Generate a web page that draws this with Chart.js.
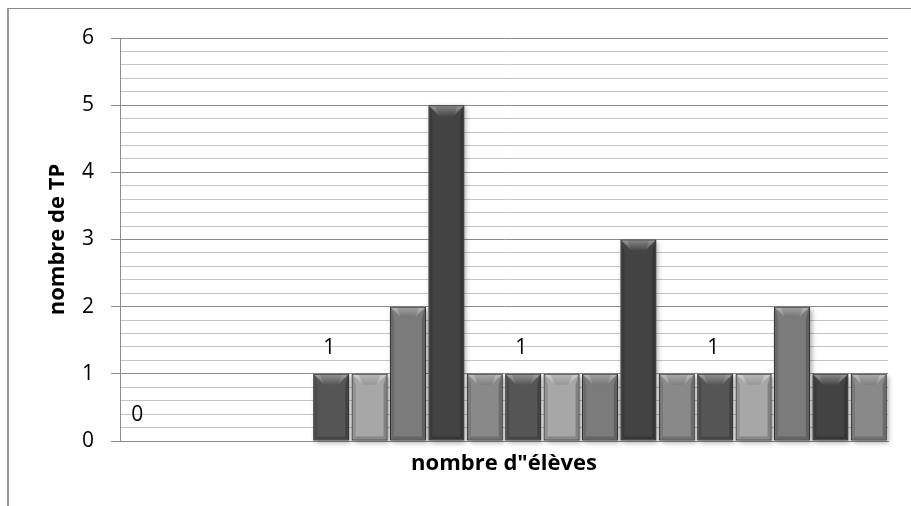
<!DOCTYPE html>
<html>
<head>
<meta charset="utf-8">
<script src="https://cdn.jsdelivr.net/npm/chart.js@4/dist/chart.umd.min.js"></script>
<style>
  html, body { margin: 0; padding: 0; background: #ffffff; }
  #wrap { position: relative; width: 911px; height: 506px; overflow: hidden; }
  #frame { position: absolute; left: 7px; top: 8px; width: 910px; height: 510px;
           border-top: 1px solid #8a8a8a; border-left: 2px solid #9a9a9a; box-sizing: border-box; pointer-events: none; }
  canvas { position: absolute; left: 0; top: 0; }
</style>
</head>
<body>
<div id="wrap">
  <canvas id="c" width="911" height="506"></canvas>
  <div id="frame"></div>
</div>
<script>
// ---- data ----
const categories = [""];
const seriesNames = ["1","2","3","4","5","6","7","8","9","10","11","12","13","14","15","16","17","18","19","20"];
const seriesValues = [0, 0, 0, 0, 0, 1, 1, 2, 5, 1, 1, 1, 1, 3, 1, 1, 1, 2, 1, 1];
const labeledSeries = [0, 5, 10, 15];
const yTickValues = [0, 1, 2, 3, 4, 5, 6];
const xTitle = 'nombre d"élèves';
const yTitle = "nombre de TP";

// ---- styles ----
const palette = ["#555555", "#a7a7a7", "#7b7b7b", "#434343", "#898989"];
const FONT = "'Open Sans', Lato, sans-serif";

const datasets = seriesNames.map((name, i) => ({
  label: name,
  data: [seriesValues[i]],
  backgroundColor: palette[i % palette.length],
  borderColor: "#2a2a2a",
  borderWidth: 1,
  borderSkipped: false,
  categoryPercentage: 1.0,
  barPercentage: 0.935
}));

function barBox(el) {
  const l = el.x - el.width / 2, r = el.x + el.width / 2;
  const t = Math.min(el.y, el.base), b = Math.max(el.y, el.base);
  return { l, r, t, b };
}

const bevelPlugin = {
  id: "bevel",
  beforeDatasetsDraw(chart) {
    const ctx = chart.ctx;
    ctx.save();
    chart.data.datasets.forEach((ds, i) => {
      const meta = chart.getDatasetMeta(i);
      meta.data.forEach(el => {
        const { l, r, t, b } = barBox(el);
        if (b - t < 2) return;
        ctx.shadowColor = "rgba(0,0,0,0.35)";
        ctx.shadowBlur = 5;
        ctx.shadowOffsetX = 2;
        ctx.shadowOffsetY = 2;
        ctx.fillStyle = "#888";
        ctx.fillRect(l, t, r - l, b - t);
      });
    });
    ctx.restore();
  },
  afterDatasetsDraw(chart) {
    const ctx = chart.ctx;
    ctx.save();
    chart.data.datasets.forEach((ds, i) => {
      const meta = chart.getDatasetMeta(i);
      meta.data.forEach(el => {
        const { l, r, t, b } = barBox(el);
        if (b - t < 2) return;
        const bh = 10, bw = 10, sw = 3;
        const L = l + 1, R = r - 1, T = t + 1, B = b - 1;
        const g = ctx.createLinearGradient(0, T, 0, T + bh);
        g.addColorStop(0, "rgba(255,255,255,0.45)");
        g.addColorStop(1, "rgba(255,255,255,0.08)");
        ctx.fillStyle = g;
        ctx.beginPath();
        ctx.moveTo(L, T); ctx.lineTo(R, T); ctx.lineTo(R - bw, T + bh); ctx.lineTo(L + bw, T + bh); ctx.closePath();
        ctx.fill();
        ctx.fillStyle = "rgba(0,0,0,0.12)";
        ctx.beginPath();
        ctx.moveTo(L + 6, T); ctx.lineTo(R - 6, T); ctx.lineTo(R - bw, T + bh); ctx.lineTo(L + bw, T + bh); ctx.closePath();
        ctx.fill();
        ctx.fillStyle = "rgba(0,0,0,0.12)";
        ctx.beginPath();
        ctx.moveTo(L, T); ctx.lineTo(L + sw, T + bh); ctx.lineTo(L + sw, B - sw); ctx.lineTo(L, B); ctx.closePath();
        ctx.fill();
        ctx.fillStyle = "rgba(0,0,0,0.22)";
        ctx.beginPath();
        ctx.moveTo(R, T); ctx.lineTo(R - sw, T + bh); ctx.lineTo(R - sw, B - sw); ctx.lineTo(R, B); ctx.closePath();
        ctx.fill();
        ctx.fillStyle = "rgba(0,0,0,0.18)";
        ctx.beginPath();
        ctx.moveTo(L, B); ctx.lineTo(R, B); ctx.lineTo(R - sw, B - sw); ctx.lineTo(L + sw, B - sw); ctx.closePath();
        ctx.fill();
      });
    });
    ctx.fillStyle = "#000000";
    ctx.font = "21px " + FONT;
    ctx.textAlign = "center";
    ctx.textBaseline = "middle";
    labeledSeries.forEach(i => {
      const meta = chart.getDatasetMeta(i);
      meta.data.forEach((el, j) => {
        const v = chart.data.datasets[i].data[j];
        ctx.fillText(String(v), el.x - 2, Math.min(el.y, el.base) - 26);
      });
    });
    ctx.restore();
  }
};

const isMajor = v => yTickValues.some(t => Math.abs(t - v) < 1e-6);

new Chart(document.getElementById("c"), {
  type: "bar",
  data: { labels: categories, datasets },
  options: {
    responsive: false,
    animation: false,
    events: [],
    layout: { padding: { top: 38, right: 23, left: 0, bottom: 0 } },
    plugins: { legend: { display: false }, tooltip: { enabled: false } },
    scales: {
      x: {
        grid: { display: false },
        border: { display: true, color: "#8a8a8a", width: 1 },
        ticks: { display: false },
        title: { display: true, text: xTitle, color: "#000000",
                 font: { family: FONT, size: 22, weight: "bold" }, padding: { top: 0, bottom: 29 } },
        afterFit(scale) { scale.height = 65; }
      },
      y: {
        min: 0, max: 6,
        ticks: {
          stepSize: 0.2,
          color: "#000000",
          font: { family: FONT, size: 21 },
          padding: 17,
          autoSkip: false,
          callback: v => isMajor(v) ? String(Math.round(v)) : ""
        },
        grid: {
          color: c => isMajor(c.tick.value) ? "#8c8c8c" : "#c4c4c4",
          lineWidth: 1,
          tickLength: 9,
          tickColor: c => isMajor(c.tick.value) ? "#8c8c8c" : "rgba(0,0,0,0)"
        },
        border: { display: true, color: "#8c8c8c", width: 1 },
        title: { display: true, text: yTitle, color: "#000000",
                 font: { family: FONT, size: 22, weight: "bold" }, padding: { top: 45, bottom: 0 } },
        afterFit(scale) { scale.width = 120; }
      }
    }
  },
  plugins: [bevelPlugin]
});
</script>
</body>
</html>
